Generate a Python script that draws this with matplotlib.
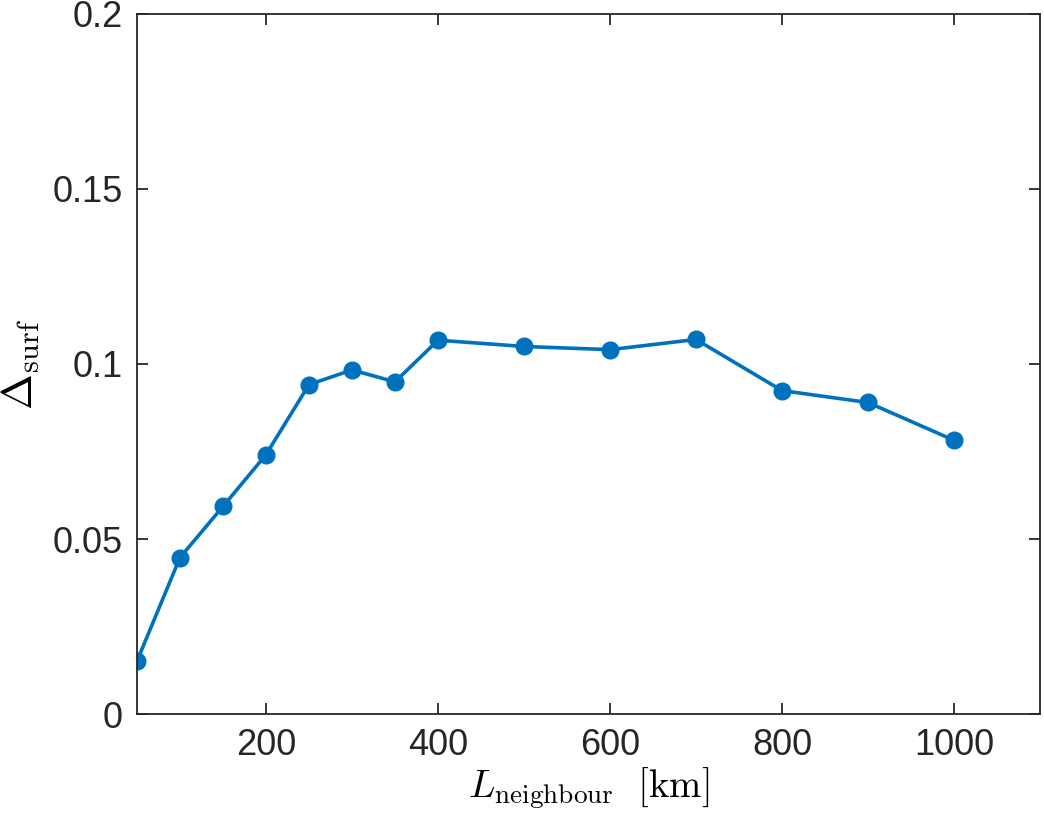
import matplotlib.pyplot as plt

# neighbourhood length scale [km] and surface delta
l_neighbour = [50, 100, 150, 200, 250, 300, 350, 400, 500, 600, 700, 800, 900, 1000]
delta_surf = [0.0151, 0.0447, 0.0593, 0.0741, 0.0941, 0.0983, 0.0949, 0.1068,
              0.1050, 0.1041, 0.1070, 0.0924, 0.0890, 0.0782]

x_ticks = [200, 400, 600, 800, 1000]
y_ticks = [0, 0.05, 0.1, 0.15, 0.2]
y_tick_labels = ['0', '0.05', '0.1', '0.15', '0.2']

plt.rcParams['font.family'] = ['Liberation Sans', 'DejaVu Sans']
plt.rcParams['mathtext.fontset'] = 'cm'

fig = plt.figure(figsize=(10.44, 8.21), dpi=100)
ax = fig.add_axes([0.1312, 0.1303, 0.8650, 0.8527])

ax.plot(l_neighbour, delta_surf, color='#0072BD', lw=2.6, marker='o', markersize=12)

ax.set_xlim(50, 1100)
ax.set_ylim(0, 0.2)
ax.set_xticks(x_ticks)
ax.set_yticks(y_ticks)
ax.set_yticklabels(y_tick_labels)

axis_color = '#262626'
for s in ax.spines.values():
    s.set_color(axis_color)
    s.set_linewidth(1.3)
ax.tick_params(direction='in', top=True, right=True, length=8, width=1.3,
               colors=axis_color, labelsize=26, pad=10)

ax.set_xlabel(r'$L_{\mathrm{neighbour}}\ \ [\mathrm{km}]$', fontsize=28, labelpad=2)
ax.set_ylabel(r'$\Delta_{\mathrm{surf}}$', fontsize=31, labelpad=8)

fig.savefig('out.png', dpi=100)
